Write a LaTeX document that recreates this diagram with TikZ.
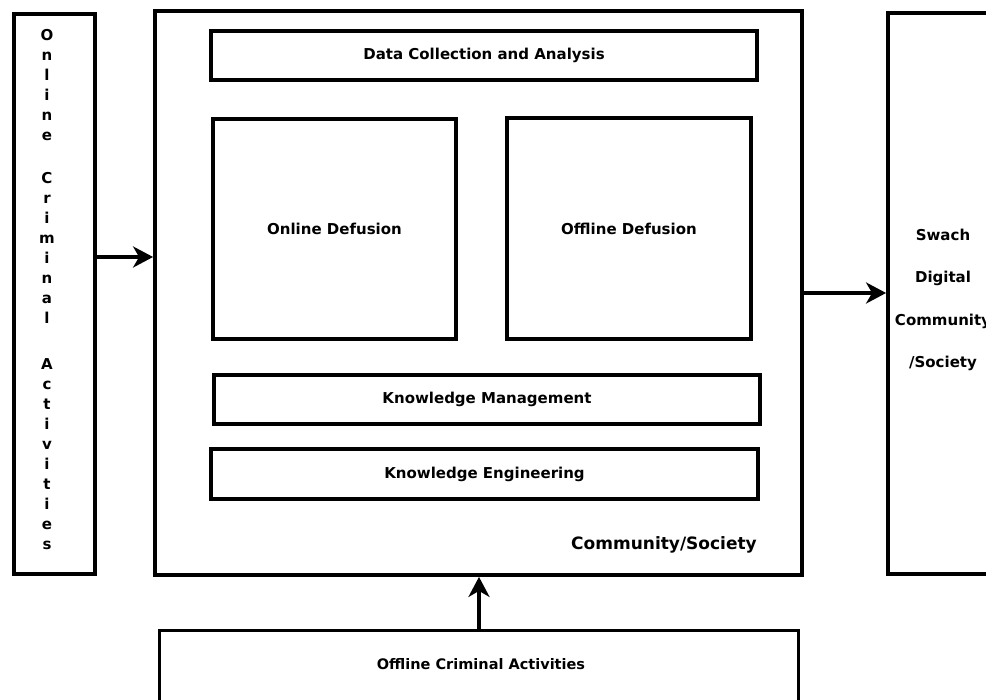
\documentclass[tikz,border=0pt]{standalone}
\usepackage{fontspec}
\setmainfont{DejaVu Sans}
\usetikzlibrary{arrows.meta}

\begin{document}
\begin{tikzpicture}
  [x=1pt,y=-1pt,
   box/.style={draw,line width=3.8pt,inner sep=0pt,font=\bfseries\fontsize{15}{18}\selectfont},
   lbl/.style={inner sep=0pt,font=\bfseries\fontsize{15}{18}\selectfont},
   arrow/.style={line width=3.6pt,-{Stealth[length=20pt,width=21pt,inset=6pt]}}]
  \useasboundingbox (0,0) rectangle (986,700);
  \clip (0,0) rectangle (986,700);
  % outer boxes
  \node (online)[box,minimum width=81,minimum height=560] at (54.5,294) {};
  \node (main)[box,minimum width=647,minimum height=564] at (478.5,293) {};
  \node (swach)[box,minimum width=130,minimum height=561] at (953,293.5) {};
  \node (offline)[box,minimum width=639,minimum height=100] at (479,680.5) {};
  % inside the society box
  \node (data)[box,minimum width=546,minimum height=49] at (484,55.5) {Data Collection and Analysis};
  \node (ondef)[box,minimum width=243,minimum height=220] at (334.5,229) {Online Defusion};
  \node (offdef)[box,minimum width=244,minimum height=221] at (629,228.5) {Offline Defusion};
  \node (km)[box,minimum width=546,minimum height=49.5] at (487,399.5) {Knowledge Management};
  \node (ke)[box,minimum width=547,minimum height=50] at (484.5,474) {Knowledge Engineering};
  \node (commlbl)[lbl,anchor=east,font=\bfseries\fontsize{17}{20}\selectfont] at (757,545) {Community/Society};
  % texts of the outer boxes
  \node (onlbl)[lbl,anchor=north,align=center,font=\bfseries\fontsize{15}{20}\selectfont] at (47,29)
    {O\\n\\l\\i\\n\\e\\[23pt]C\\r\\i\\m\\i\\n\\a\\l\\[26pt]A\\c\\t\\i\\v\\i\\t\\i\\e\\s};
  \node (swachlbl)[lbl,anchor=north,align=center,font=\bfseries\fontsize{15}{42.3}\selectfont] at (943,229)
    {Swach\\Digital\\Community\\/Society};
  \node (offlbl)[lbl,font=\bfseries\fontsize{14.5}{18}\selectfont] at (481,664) {Offline Criminal Activities};
  % arrows
  \draw[arrow] ([yshift=37pt]online.east) -- ([yshift=37pt]online.east -| main.west);
  \draw[arrow] (main.east) -- (main.east -| swach.west);
  \draw[arrow] (offline.north) -- (offline.north |- main.south);
\end{tikzpicture}
\end{document}
